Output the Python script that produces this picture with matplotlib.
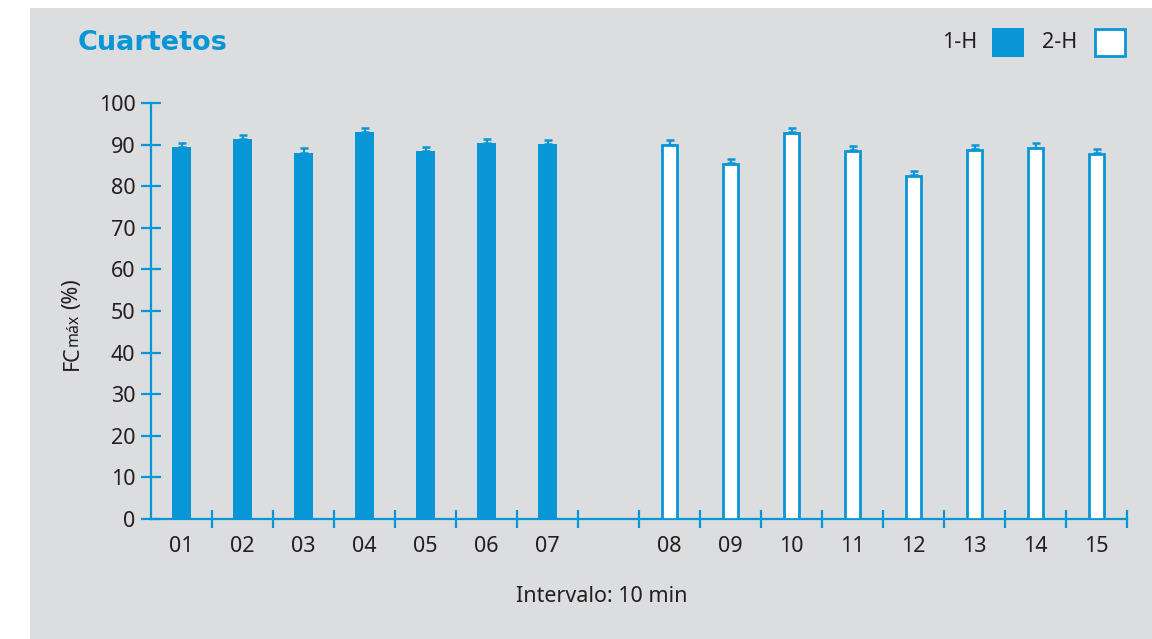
import numpy as np
import matplotlib
matplotlib.use('Agg')
import matplotlib.pyplot as plt
from matplotlib.patches import Rectangle

# Data
labels_1h = ['01', '02', '03', '04', '05', '06', '07']
labels_2h = ['08', '09', '10', '11', '12', '13', '14', '15']
fc_1h = [89.4, 91.3, 88.1, 93.0, 88.5, 90.4, 90.1]
fc_2h = [89.8, 85.4, 92.9, 88.4, 82.5, 88.7, 89.1, 87.8]
err_1h = [1.0, 1.0, 1.0, 1.0, 1.0, 1.0, 1.0]
err_2h = [1.0, 1.0, 1.0, 1.0, 1.0, 1.0, 1.0, 1.0]

blue = '#0896d6'
gray = '#dcdddf'
dark = '#231f20'

W, H = 1152, 639
fig = plt.figure(figsize=(W / 100, H / 100), dpi=100, facecolor='white')
plt.rcParams['font.family'] = ['Noto Sans', 'DejaVu Sans']

# gray panel
fig.patches.append(Rectangle((30 / W, 0), 1 - 30 / W, 1 - 8 / H,
                             transform=fig.transFigure, facecolor=gray,
                             edgecolor='none', zorder=-10))

ax = fig.add_axes([151 / W, (H - 519) / H, (1127 - 151) / W, 416 / H])
ax.set_facecolor('none')
ax.set_zorder(5)

x1 = np.arange(len(fc_1h))
x2 = np.arange(len(fc_2h)) + len(fc_1h) + 1

ax.bar(x1, fc_1h, width=0.3, color=blue, zorder=3)
ax.bar(x2, fc_2h, width=0.255, color='white', edgecolor=blue, linewidth=2, zorder=3)
ax.errorbar(x1, fc_1h, yerr=[np.zeros(len(x1)), err_1h], fmt='none', ecolor=blue,
            elinewidth=1.5, capsize=2.6, capthick=1.8, zorder=2)
ax.errorbar(x2, np.array(fc_2h) + 0.2, yerr=[np.zeros(len(x2)), err_2h], fmt='none',
            ecolor=blue, elinewidth=1.5, capsize=2.6, capthick=1.8, zorder=2)

ax.set_xlim(-0.5, 15.5)
ax.set_ylim(0, 100)
ax.set_yticks(np.arange(0, 101, 10))
ax.set_xticks(list(x1) + list(x2))
ax.set_xticklabels(labels_1h + labels_2h)
ax.set_xticks(np.arange(-0.5, 15.6, 1)[1:], minor=True)

for s in ['top', 'right']:
    ax.spines[s].set_visible(False)
for s in ['left', 'bottom']:
    ax.spines[s].set_color(blue)
    ax.spines[s].set_linewidth(1.6)

ax.tick_params(axis='y', direction='inout', length=14.5, width=1.6, color=blue,
               labelsize=15.5, labelcolor=dark, pad=4)
ax.tick_params(axis='x', which='major', length=0, labelsize=15.5, labelcolor=dark, pad=12)
ax.tick_params(axis='x', which='minor', direction='inout', length=13, width=1.6, color=blue)

# axis labels
fig.text(602 / W, 1 - 597 / H, 'Intervalo: 10 min', fontsize=15.5, color=dark,
         ha='center', va='center')
fig.text(72 / W, 1 - 370 / H, 'FC', fontsize=15.5, color=dark, rotation=90,
         ha='center', va='bottom')
fig.text(74 / W, 1 - 346 / H, 'máx', fontsize=11.5, color=dark, rotation=90,
         ha='center', va='bottom')
fig.text(72 / W, 1 - 309 / H, '(%)', fontsize=15.5, color=dark, rotation=90,
         ha='center', va='bottom')

# title
fig.text(78 / W, 1 - 43 / H, 'Cuartetos', fontsize=19.5, fontweight='bold', color=blue,
         family='DejaVu Sans', ha='left', va='center')

# legend
fig.text(977 / W, 1 - 43 / H, '1-H', fontsize=15.5, color=dark, ha='right', va='center')
fig.patches.append(Rectangle((992 / W, 1 - 57 / H), 32 / W, 29 / H,
                             transform=fig.transFigure, facecolor=blue,
                             edgecolor='none', zorder=2))
fig.text(1077 / W, 1 - 43 / H, '2-H', fontsize=15.5, color=dark, ha='right', va='center')
fig.patches.append(Rectangle((1095 / W, 1 - 56 / H), 30 / W, 27 / H,
                             transform=fig.transFigure, facecolor='white',
                             edgecolor=blue, linewidth=2, zorder=2))

fig.savefig('out.png', dpi=100)
